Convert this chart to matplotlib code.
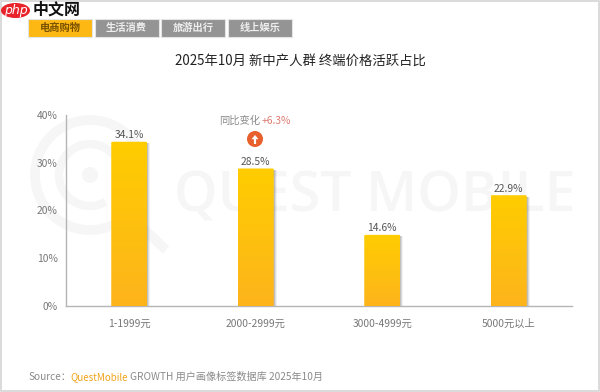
"""Price-band share of active devices, with tabs, watermark and gradient bars."""

import matplotlib.pyplot as plt
import numpy as np
from matplotlib.patches import Arc, Circle, Ellipse, FancyArrow, FancyBboxPatch, Rectangle

plt.rcParams["font.family"] = ["Noto Sans CJK SC", "DejaVu Sans"]

W, H = 600, 392

categories = ["1-1999元", "2000-2999元", "3000-4999元", "5000元以上"]
values = [34.1, 28.5, 14.6, 22.9]
y_ticks = [0, 10, 20, 30, 40]
tabs = ["电商购物", "生活消费", "旅游出行", "线上娱乐"]
title = "2025年10月 新中产人群 终端价格活跃占比"
change_label = "同比变化"
change_value = "+6.3%"

WATERMARK = "#f6f6f6"


def px_text(bg, x, y, s, **kw):
    """Place text on the full-figure overlay using pixel coordinates."""
    return bg.text(x, y, s, va=kw.pop("va", "center"), ha=kw.pop("ha", "center"), **kw)


fig = plt.figure(figsize=(W / 100, H / 100), dpi=100, facecolor="white")

# overlay in pixel coordinates for the page furniture
bg = fig.add_axes([0, 0, 1, 1], zorder=0)
bg.set_xlim(0, W)
bg.set_ylim(H, 0)
bg.axis("off")

bg.add_patch(Rectangle((0.5, 0.5), W - 1.5, H - 2, fc="none", ec="#d4d4d4", lw=1.2))

# watermark
bg.add_patch(Arc((90, 175), 110, 110, theta1=60, theta2=340, ec=WATERMARK, lw=7))
bg.add_patch(Arc((90, 175), 62, 62, theta1=60, theta2=340, ec=WATERMARK, lw=6))
bg.add_patch(Circle((90, 175), 8, fc=WATERMARK, ec="none"))
bg.plot([118, 166], [204, 250], color=WATERMARK, lw=7, solid_capstyle="butt")
px_text(bg, 375, 197, "QUEST MOBILE", fontsize=40, color=WATERMARK, weight="semibold",
        family=["Open Sans", "DejaVu Sans"])

# logo
bg.add_patch(Ellipse((15.5, 10.5), 29, 15, fc="#e8232a", ec="none", zorder=4))
px_text(bg, 15.5, 10, "php", fontsize=9, color="white", style="italic", zorder=5,
        family=["DejaVu Sans"])
px_text(bg, 57, 9.5, "中文网", fontsize=11.5, color="#111111", weight="bold", zorder=5)

# tabs
for i, tab in enumerate(tabs):
    x0 = 28 + i * 66.6
    active = i == 0
    bg.add_patch(Rectangle((x0, 19), 64, 18, fc="#fdb813" if active else "#949494",
                           ec="#e4e4e4", lw=0.8))
    px_text(bg, x0 + 32, 28, tab, fontsize=7.4, weight="bold",
            color="#7a5200" if active else "#eeeeee")

px_text(bg, 300, 62, title, fontsize=9.6, color="#222222")

# chart
ax = fig.add_axes([66 / W, 1 - 306 / H, 506 / W, 191 / H], zorder=1)
ax.patch.set_alpha(0)
bar_w = 36 / 126.5
top_pad = 0.3

gradient = np.linspace(0, 1, 256).reshape(-1, 1, 1)
top_rgb = np.array([255, 205, 0]) / 255
low_rgb = np.array([253, 180, 28]) / 255
grad_img = top_rgb + gradient * (low_rgb - top_rgb)

for i, val in enumerate(values):
    # soft shadow to the right of the bar
    for off, alpha in ((0.024, 0.10), (0.016, 0.18), (0.008, 0.28)):
        ax.add_patch(Rectangle((i - bar_w / 2 + off, 0), bar_w, val,
                               fc="#777777", ec="none", alpha=alpha, zorder=2))
    patch = FancyBboxPatch((i - bar_w / 2, -1), bar_w, val + 1 + top_pad,
                           boxstyle="round,pad=0,rounding_size=0.012",
                           mutation_aspect=20, fc="none", ec="none", zorder=3)
    ax.add_patch(patch)
    im = ax.imshow(grad_img, extent=(i - bar_w / 2, i + bar_w / 2, 0, val + top_pad),
                   aspect="auto", zorder=3, interpolation="bilinear")
    im.set_clip_path(patch)
    ax.text(i, val + top_pad + 0.3, f"{val}%", ha="center", va="bottom", fontsize=7.4,
            color="#555555", zorder=4)

ax.set_xlim(-0.5, 3.5)
ax.set_ylim(0, 40)
ax.set_xticks(range(len(categories)))
ax.set_xticklabels(categories)
ax.set_yticks(y_ticks)
ax.set_yticklabels([f"{t}%" for t in y_ticks])
ax.tick_params(axis="both", length=0, labelsize=7.4, labelcolor="#777777")
ax.tick_params(axis="x", pad=9)
ax.tick_params(axis="y", pad=6)
for side in ("top", "right"):
    ax.spines[side].set_visible(False)
for side in ("left", "bottom"):
    ax.spines[side].set_color("#b5b5b5")
    ax.spines[side].set_linewidth(1.0)

# year-on-year callout
px_text(bg, 240, 120.5, change_label, fontsize=7.4, color="#8a8a8a")
px_text(bg, 276, 120.5, change_value, fontsize=7.4, color="#dc7b72")
bg.add_patch(Circle((255, 139), 8, fc="#e8602c", ec="none"))
bg.add_patch(FancyArrow(255, 144, 0, -9, width=2.2, head_width=7, head_length=4.2,
                        length_includes_head=True, fc="white", ec="none"))

# source line
px_text(bg, 28, 377, "Source：", ha="left", fontsize=7.3, color="#8a8a8a")
px_text(bg, 70, 377, "QuestMobile", ha="left", fontsize=7.0, color="#f0a41c")
px_text(bg, 130, 377, "GROWTH 用户画像标签数据库 2025年10月", ha="left", fontsize=7.3,
        color="#8a8a8a")

fig.savefig("out.png", dpi=100)
